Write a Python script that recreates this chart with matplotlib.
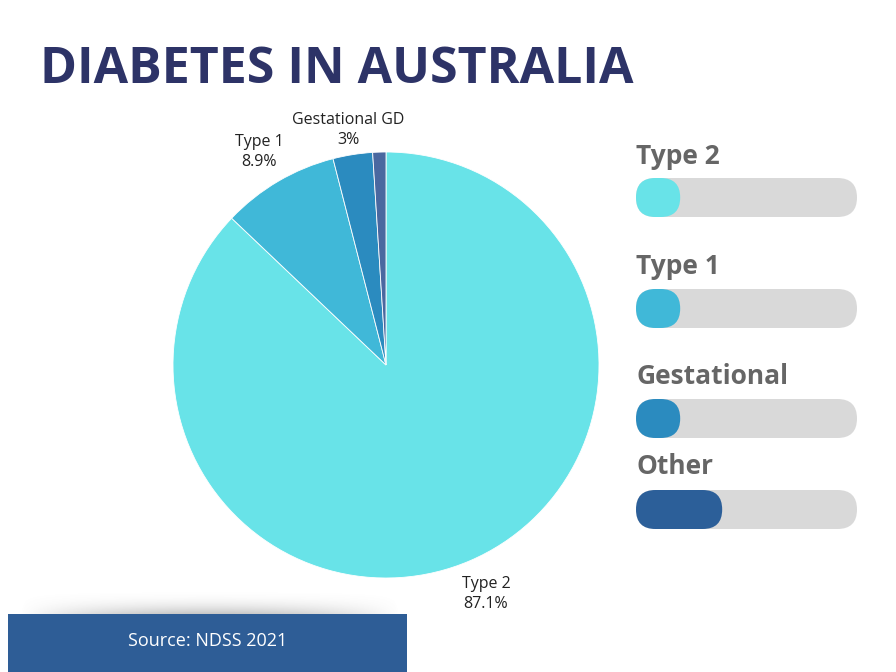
import matplotlib
matplotlib.use("Agg")
import matplotlib.pyplot as plt
import numpy as np
from matplotlib.patches import FancyBboxPatch, Rectangle

# data
categories = ["Type 2", "Type 1", "Gestational", "Other"]
shares = [87.1, 8.9, 3.0, 1.0]
pie_labels = ["Type 2\n87.1%", "Type 1\n8.9%", "Gestational GD\n3%", ""]
colors = ["#68E3E8", "#40B8D8", "#2B8BBF", "#4A68A0"]
bar_colors = ["#68E3E8", "#40B8D8", "#2B8BBF", "#2C5F99"]
bar_fill = [0.20, 0.20, 0.20, 0.39]   # filled part of each legend track

W, H = 896, 672
fig = plt.figure(figsize=(W / 100, H / 100), dpi=100)
fig.patch.set_facecolor("white")

# overlay axes in pixel coordinates for the decorations
deco = fig.add_axes([0, 0, 1, 1])
deco.set_xlim(0, W)
deco.set_ylim(H, 0)
deco.axis("off")

# pie: centre (386, 365), radius 213 px
cx, cy, r = 386, 365, 213
pie_ax = fig.add_axes([(cx - r) / W, (H - cy - r) / H, 2 * r / W, 2 * r / H])
pie_ax.pie(shares, colors=colors, startangle=90, counterclock=False,
           wedgeprops=dict(edgecolor="white", linewidth=0.6))
pie_ax.set_xlim(-1, 1)
pie_ax.set_ylim(-1, 1)
pie_ax.set_aspect("equal")

label_pos = [(486, 594), (259, 152), (348, 130)]
for lab, (px, py) in zip(pie_labels, label_pos):
    deco.text(px, py, lab, ha="center", va="center", fontsize=11.5,
              family="Open Sans", color="#222222", linespacing=1.35)

deco.text(40, 70, "DIABETES IN AUSTRALIA", fontsize=36,
          fontweight="bold", family="Open Sans", color="#2D3367",
          ha="left", va="center")

# legend tracks
label_y = [156, 266, 376, 466]
bar_top = [178, 289, 399, 490]
track_x0, track_x1, bar_h = 636, 857, 39
for name, ly, by, frac, col in zip(categories, label_y, bar_top, bar_fill, bar_colors):
    deco.text(track_x0, ly, name, fontsize=19, fontweight="bold",
              family="Open Sans", color="#666666", ha="left", va="center")
    deco.add_patch(FancyBboxPatch((track_x0, by), track_x1 - track_x0, bar_h,
                                  boxstyle="round,pad=0,rounding_size=19.5",
                                  facecolor="#D9D9D9", edgecolor="none"))
    fw = max(frac * (track_x1 - track_x0), 44)
    deco.add_patch(FancyBboxPatch((track_x0, by), fw, bar_h,
                                  boxstyle="round,pad=0,rounding_size=19.5",
                                  facecolor=col, edgecolor="none"))

# source box with soft shadow above it
gx = np.linspace(-1, 1, 300)
gy = np.linspace(0, 1, 40)
X, Y = np.meshgrid(gx, gy)
alpha = np.clip((1 - X ** 2) * Y ** 2.5, 0, 1) * 0.4
shadow = np.zeros((40, 300, 4))
shadow[..., :3] = 0.45
shadow[..., 3] = alpha
deco.imshow(shadow, extent=(20, 400, 614, 588), aspect="auto", zorder=1)
deco.set_xlim(0, W)
deco.set_ylim(H, 0)
deco.add_patch(Rectangle((8, 614), 399, 60, facecolor="#2E5D96",
                         edgecolor="none", zorder=2))
deco.text(208, 641, "Source: NDSS 2021", fontsize=13, family="Open Sans",
          color="white", ha="center", va="center", zorder=3)

fig.savefig("out.png", dpi=100, facecolor="white")
